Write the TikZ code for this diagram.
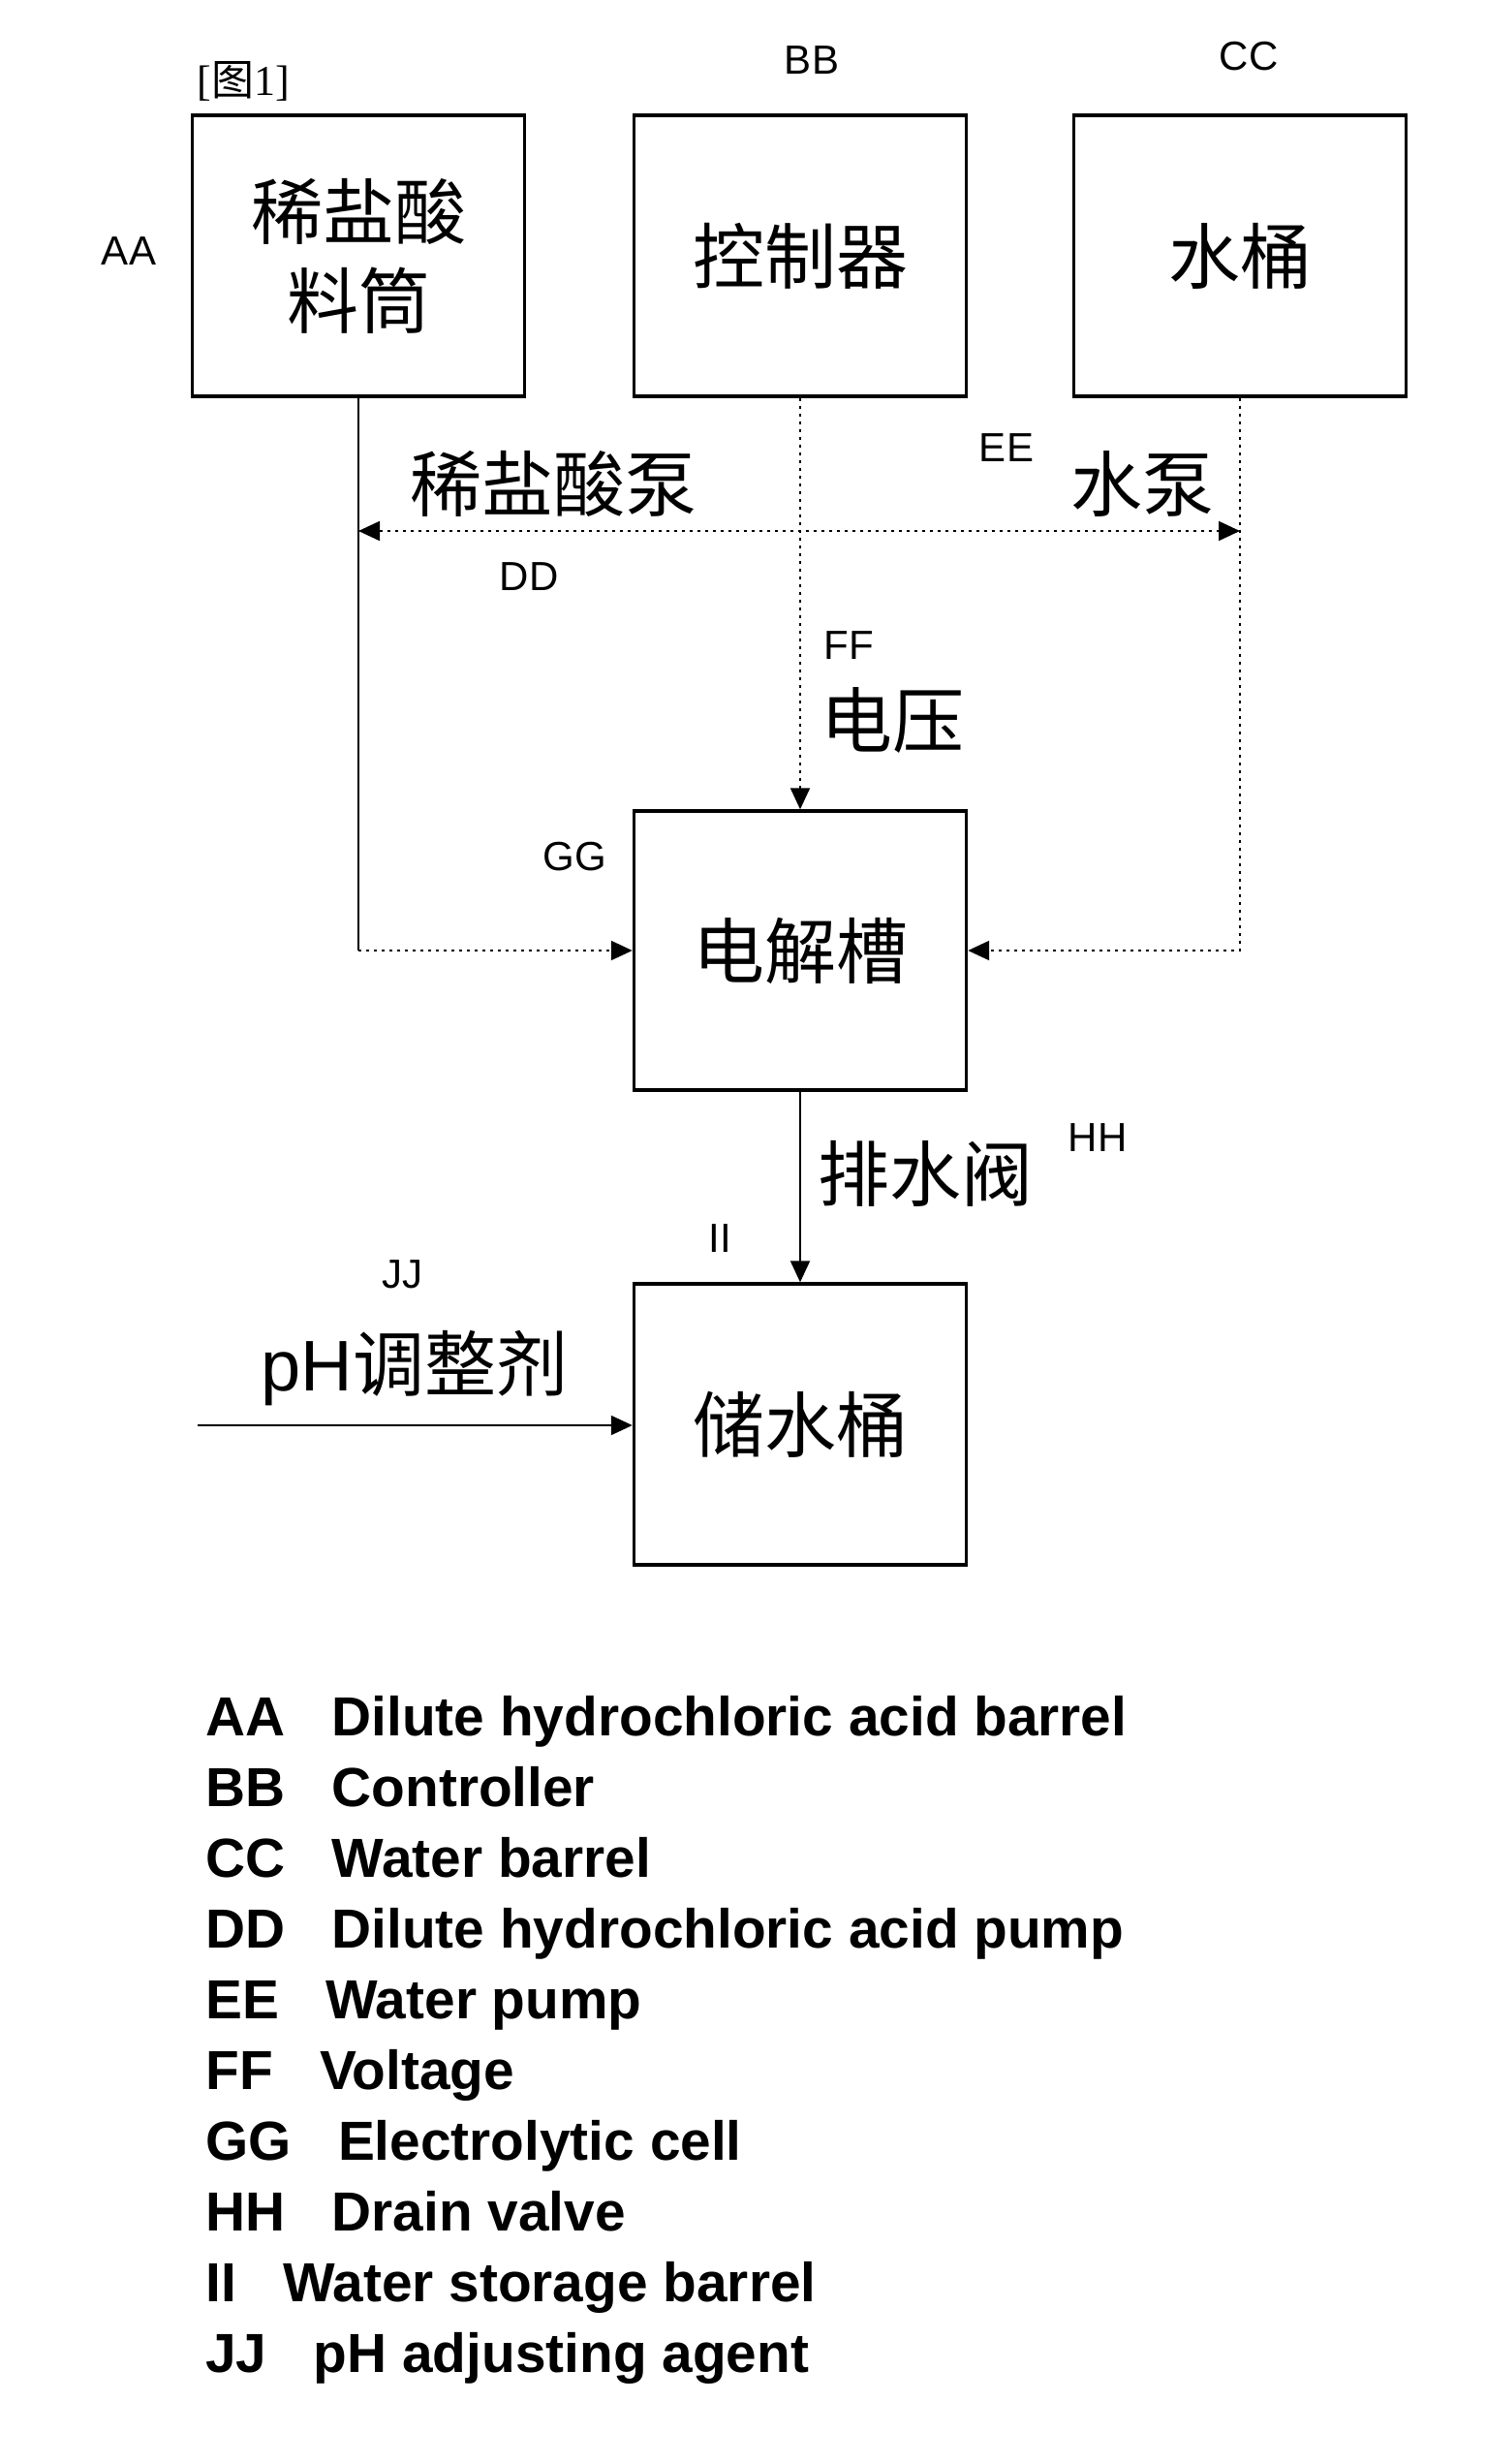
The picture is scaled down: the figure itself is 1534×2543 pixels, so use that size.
\documentclass[tikz,border=0pt]{standalone}
\usepackage{fontspec}
\setmainfont{Liberation Sans}
\newfontfamily\cjk{Noto Sans CJK SC}
\newfontfamily\tms{Liberation Serif}
\usetikzlibrary{arrows.meta,positioning}

\tikzset{
  barrel/.style={draw, line width=1.7pt, minimum width=171.5pt, minimum height=145pt, inner sep=0pt, align=center, font=\cjk\fontsize{37}{46}\selectfont},
  zh/.style={font=\cjk\fontsize{37}{45}\selectfont, inner sep=0pt},
  tag/.style={font=\fontsize{21}{25}\selectfont, inner sep=0pt},
  pipe/.style={line width=1pt},
  flow/.style={line width=1pt, dash pattern=on 1.5pt off 2.5pt},
  tip/.style={-{Triangle[length=11pt,width=10pt]}},
  legend/.style={anchor=base west, font=\bfseries\fontsize{28.4}{34}\selectfont, inner sep=0pt}
}

\begin{document}
\begin{tikzpicture}[x=0.5pt, y=-0.5pt]
  \useasboundingbox (0,0) rectangle (1534,2543);
  % barrels and cells
  \node[barrel] (aa) at (370,264) {稀盐酸\\料筒};
  \node[barrel] (bb) at (826,264) {控制器};
  \node[barrel] (cc) at (1280,264) {水桶};
  \node[barrel, minimum height=144pt] (gg) at (826,981) {电解槽};
  \node[barrel] (ii) at (826,1470) {储水桶};
  \node[font=\fontsize{22}{26}\selectfont, inner sep=0pt] (fig) at (251,84) {{\tms[}{\cjk 图}{\tms 1]}};
  % reference letters
  \node[tag] (laa) at (133,259) {AA};
  \node[tag] (lbb) at (838,62) {BB};
  \node[tag] (lcc) at (1289,58) {CC};
  \node[tag] (ldd) at (546,595) {DD};
  \node[tag] (lee) at (1039,462) {EE};
  \node[tag] (lff) at (876,666) {FF};
  \node[tag] (lgg) at (593,884) {GG};
  \node[tag] (lhh) at (1133,1174) {HH};
  \node[tag] (lii) at (743,1278) {II};
  \node[tag] (ljj) at (415,1315) {JJ};
  % line labels
  \node[zh] (acidpump) at (571,499) {稀盐酸泵};
  \node[zh] (waterpump) at (1179,499) {水泵};
  \node[zh] (volt) at (921,743) {电压};
  \node[zh] (drain) at (955,1211) {排水阀};
  \node[zh, font=\fontsize{37}{45}\selectfont] (agent) at (428,1412) {pH{\cjk 调整剂}};
  % connections
  \coordinate (pumpy) at (0,548);
  \coordinate (jjin) at (204,1471);
  \draw[pipe] (aa.south) -- (aa.south |- gg.west);
  \draw[flow, tip] (aa.south |- gg.west) -- (gg.west);
  \draw[flow, tip] (bb.south) -- (gg.north);
  \draw[flow, tip] (cc.south) |- (gg.east);
  \draw[flow, {Triangle[length=11pt,width=10pt]}-{Triangle[length=11pt,width=10pt]}] (aa.south |- pumpy) -- (cc.south |- pumpy);
  \draw[pipe, tip] (gg.south) -- (ii.north);
  \draw[pipe, tip] (jjin) -- (ii.west |- jjin);
  % legend
  \foreach \code/\desc [count=\i from 0] in {AA/Dilute hydrochloric acid barrel, BB/Controller, CC/Water barrel, DD/Dilute hydrochloric acid pump, EE/Water pump, FF/Voltage, GG/Electrolytic cell, HH/Drain valve, II/Water storage barrel, JJ/pH adjusting agent}
    \node[legend] (leg\i) at (212,1791+73*\i) {\code\hspace{0.85em}\desc};
\end{tikzpicture}
\end{document}
